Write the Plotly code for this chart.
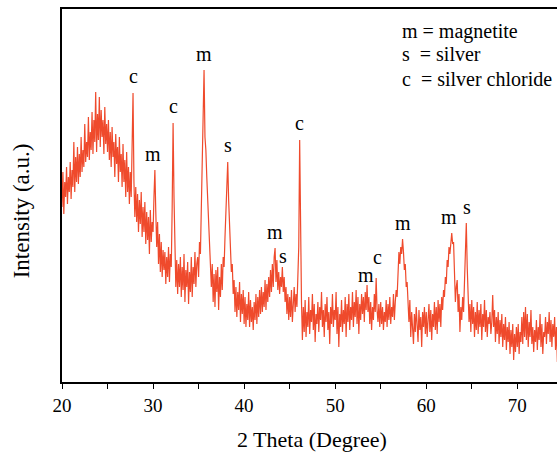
import plotly.graph_objects as go

# 2-theta grid start/step (degrees)
theta_start = 20.0
theta_step = 0.1

# Intensity (a.u.), 0.1 degree steps, grouped by 5 degrees
int_20_25 = [175, 210, 168, 200, 185, 215, 178, 205, 190, 220,
             183, 212, 195, 240, 190, 225, 200, 235, 198, 228,
             205, 245, 210, 232, 215, 258, 220, 240, 225, 265,
             222, 250, 232, 270, 228, 262, 240, 290, 230, 268,
             242, 285, 235, 272, 245, 262, 228, 275, 238, 258]
int_25_30 = [230, 262, 222, 250, 215, 255, 225, 240, 205, 248,
             218, 235, 200, 245, 210, 228, 195, 238, 200, 222,
             185, 230, 190, 215, 178, 210, 185, 230, 289, 200,
             165, 195, 160, 188, 150, 182, 158, 190, 145, 175,
             150, 180, 138, 170, 142, 165, 128, 172, 140, 160]
int_30_35 = [150, 185, 212, 170, 135, 160, 118, 148, 110, 140,
             105, 132, 112, 130, 98, 125, 105, 135, 100, 128,
             115, 175, 259, 185, 120, 95, 122, 88, 118, 95,
             125, 85, 115, 92, 128, 80, 112, 95, 120, 78,
             110, 90, 125, 85, 115, 98, 130, 95, 118, 125]
int_35_40 = [105, 140, 128, 175, 215, 262, 312, 245, 232, 205,
             182, 158, 140, 112, 95, 118, 80, 108, 75, 112,
             90, 115, 72, 105, 85, 118, 92, 125, 115, 145,
             175, 200, 220, 182, 155, 128, 110, 118, 88, 102,
             70, 95, 65, 90, 72, 100, 60, 88, 68, 92]
int_40_45 = [58, 85, 55, 78, 62, 90, 55, 82, 60, 75,
             52, 80, 62, 88, 58, 85, 65, 92, 68, 95,
             70, 90, 75, 102, 72, 98, 80, 105, 85, 112,
             90, 118, 95, 125, 134, 100, 122, 92, 110, 88,
             105, 95, 115, 90, 105, 80, 95, 68, 88, 62]
int_45_50 = [85, 65, 92, 60, 78, 95, 70, 88, 75, 100,
             135, 242, 150, 80, 42, 75, 50, 82, 45, 70,
             55, 85, 48, 72, 60, 88, 52, 78, 40, 68,
             58, 80, 50, 75, 62, 90, 55, 72, 45, 78,
             60, 85, 52, 70, 38, 75, 58, 88, 55, 72]
int_50_55 = [62, 90, 48, 75, 35, 68, 55, 82, 50, 72,
             58, 85, 45, 78, 60, 88, 52, 75, 62, 90,
             55, 80, 65, 92, 58, 85, 48, 78, 62, 88,
             68, 85, 60, 90, 72, 97, 70, 85, 58, 80,
             52, 75, 62, 88, 70, 104, 72, 60, 78, 55]
int_55_60 = [80, 58, 75, 52, 70, 60, 82, 55, 78, 62,
             85, 58, 75, 65, 88, 62, 80, 92, 85, 112,
             130, 118, 135, 128, 143, 130, 112, 118, 95, 100,
             78, 60, 82, 45, 70, 55, 38, 68, 50, 75,
             58, 40, 72, 52, 65, 35, 70, 55, 75, 48]
int_60_65 = [70, 45, 62, 78, 50, 72, 42, 68, 55, 80,
             52, 75, 48, 82, 60, 78, 55, 85, 72, 92,
             85, 105, 98, 122, 115, 135, 128, 145, 149, 138,
             140, 110, 80, 95, 102, 70, 88, 50, 75, 62,
             85, 70, 110, 140, 159, 115, 85, 60, 78, 50]
int_65_70 = [82, 58, 75, 45, 70, 52, 80, 48, 72, 55,
             78, 42, 68, 55, 82, 50, 72, 45, 65, 58,
             70, 48, 60, 87, 55, 72, 40, 65, 48, 70,
             38, 62, 45, 68, 35, 58, 42, 65, 32, 55,
             40, 60, 28, 52, 35, 58, 22, 48, 30, 55]
int_70_745 = [35, 58, 28, 50, 40, 65, 38, 70, 45, 75,
              42, 68, 35, 60, 45, 72, 38, 55, 30, 52,
              40, 62, 32, 55, 42, 68, 35, 58, 28, 50,
              45, 65, 38, 60, 48, 70, 40, 62, 35, 58,
              45, 65, 32, 55, 20]

intensity = (int_20_25 + int_25_30 + int_30_35 + int_35_40 + int_40_45 +
             int_45_50 + int_50_55 + int_55_60 + int_60_65 + int_65_70 + int_70_745)
two_theta = [round(theta_start + i * theta_step, 1) for i in range(len(intensity))]

# Peak labels
peak_labels = ["c", "m", "c", "m", "s", "m", "s", "c", "m", "c", "m", "m", "s"]
peak_theta = [27.8, 30.2, 32.2, 35.6, 38.2, 43.4, 44.2, 46.1, 53.5, 54.5, 57.4, 62.8, 64.4]
# label placement offsets in pixels (styling only)
label_xshift = [0, -2, 0, 0, 0, 0, 1, 0, -1, 1, 0, -3, 1]
label_yshift = [4, 3, 4, 3, 4, 3, -2, 4, -3, 8, 3, 3, 3]

legend_lines = ["m = magnetite", "s\u00a0\u00a0= silver", "c\u00a0\u00a0= silver chloride"]

x_ticks = [20, 30, 40, 50, 60, 70]

serif = "Liberation Serif, Times New Roman, serif"

fig = go.Figure()
fig.add_trace(go.Scatter(
    x=two_theta, y=intensity, mode="lines",
    line=dict(color="#ef4a2c", width=1.2),
    showlegend=False, hoverinfo="skip"))

annotations = []
for lab, th, dx, dy in zip(peak_labels, peak_theta, label_xshift, label_yshift):
    idx = two_theta.index(th)
    annotations.append(dict(
        x=th, y=intensity[idx], text=lab, showarrow=False,
        xanchor="center", yanchor="bottom", xshift=dx, yshift=dy,
        font=dict(family=serif, size=20, color="black")))

legend_y = [0.94, 0.88, 0.812]
for txt, yy in zip(legend_lines, legend_y):
    annotations.append(dict(
        x=0.683, y=yy, xref="paper", yref="paper", text=txt, showarrow=False,
        xanchor="left", yanchor="middle",
        font=dict(family=serif, size=20, color="black")))

# axis titles as annotations
annotations.append(dict(
    x=0.505, y=-0.155, xref="paper", yref="paper", text="2 Theta (Degree)",
    showarrow=False, xanchor="center", yanchor="middle",
    font=dict(family=serif, size=22, color="black")))
annotations.append(dict(
    x=-0.081, y=0.46, xref="paper", yref="paper", text="Intensity (a.u.)",
    showarrow=False, xanchor="center", yanchor="middle", textangle=-90,
    font=dict(family=serif, size=23, color="black")))

fig.update_layout(
    width=557, height=453,
    margin=dict(l=62, r=0, t=9, b=71),
    paper_bgcolor="white", plot_bgcolor="white",
    annotations=annotations,
    xaxis=dict(
        range=[20, 74.36], tickvals=x_ticks, ticktext=[str(v) for v in x_ticks],
        automargin=False,
        showline=True, linecolor="black", linewidth=1.8, mirror=True,
        ticks="outside", ticklen=5, tickwidth=1.4, tickcolor="black",
        minor=dict(dtick=5, tick0=20, ticks="outside", ticklen=5, tickwidth=1.4,
                   tickcolor="black", showgrid=False),
        showgrid=False, zeroline=False,
        tickfont=dict(family=serif, size=19, color="black")),
    yaxis=dict(
        range=[0, 373], showticklabels=False, ticks="",
        automargin=False,
        showline=True, linecolor="black", linewidth=1.8, mirror=False,
        showgrid=False, zeroline=False),
)

# remove the browser's default 8px body margin so the figure fills the window
fig.write_html("out.html",
               config={"displayModeBar": False},
               post_script="document.body.style.margin='0';document.body.style.overflow='hidden';")
